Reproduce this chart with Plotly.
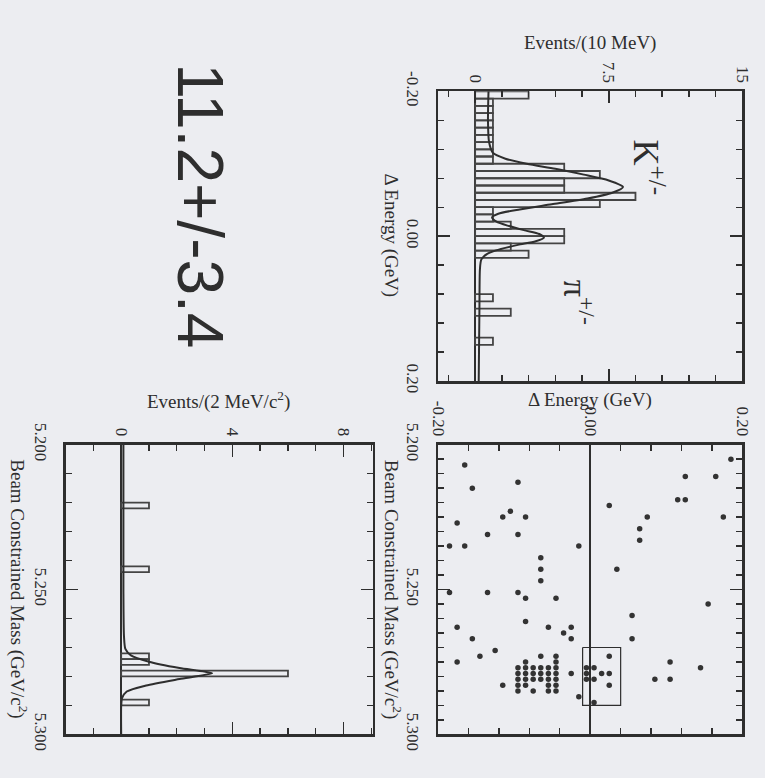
import plotly.graph_objects as go

W, H = 765, 778
BG = "#ecedf1"
INK = "#2e2e2e"
BAR_INK = "#444444"
SERIF = "Liberation Serif, Times New Roman, serif"
SANS = "Liberation Sans, Arial, sans-serif"

# ---------------- data ----------------
# Delta-E histogram, 10 MeV bins (only non-empty bins listed)
DE_BIN_CENTERS = [-0.195, -0.185, -0.175, -0.165, -0.155, -0.145, -0.135, -0.125,
                  -0.115, -0.105, -0.095, -0.085, -0.075, -0.065, -0.055, -0.045,
                  -0.035, -0.025, -0.015, -0.005, 0.005, 0.015, 0.025,
                  0.085, 0.105, 0.145]
DE_BIN_COUNTS = [3, 1, 1, 1, 1, 1, 1, 1,
                 1, 1, 5, 7, 5, 5, 9, 7,
                 1, 1, 2, 5, 5, 2, 3,
                 1, 2, 1]
DE_BIN_WIDTH = 0.01

DE_FIT_X = [-0.200, -0.160, -0.130, -0.115, -0.107, -0.100, -0.093, -0.085, -0.077,
            -0.068, -0.060, -0.052, -0.044, -0.037, -0.031, -0.026, -0.020, -0.014,
            -0.008, -0.003, 0.002, 0.007, 0.012, 0.018, 0.024, 0.032, 0.045, 0.100, 0.200]
DE_FIT_Y = [0.75, 0.72, 0.78, 1.0, 1.7, 2.9, 4.5, 6.1, 7.5,
            8.3, 7.7, 6.3, 4.3, 2.5, 1.3, 0.95, 1.2, 1.9,
            2.8, 3.6, 3.86, 3.4, 2.4, 1.4, 0.7, 0.35, 0.27, 0.24, 0.2]

# Beam-constrained-mass histogram, 2 MeV/c^2 bins (only non-empty bins listed)
MBC_BIN_CENTERS = [5.221, 5.243, 5.273, 5.275, 5.279, 5.289]
MBC_BIN_COUNTS = [1, 1, 1, 1, 6, 1]
MBC_BIN_WIDTH = 0.002

MBC_FIT_X = [5.200, 5.250, 5.266, 5.2705, 5.2727, 5.2749, 5.2771, 5.2789, 5.2809,
             5.2831, 5.2852, 5.2875, 5.290, 5.300]
MBC_FIT_Y = [0.08, 0.08, 0.1, 0.15, 0.35, 1.0, 2.1, 3.27, 2.1,
             0.9, 0.2, 0.03, 0.0, 0.0]

# Scatter: Delta E (GeV) vs beam constrained mass (GeV/c^2)
SCAT_DE = [-0.165, -0.155, -0.095, -0.175, -0.115, -0.105, -0.085, -0.135, -0.095, -0.185,
           -0.165, -0.015, -0.065, -0.065, -0.065, -0.185, -0.135, -0.095, -0.085, -0.045,
           -0.085, -0.175, -0.055, -0.155, -0.035, -0.025, -0.025, -0.125, -0.145, -0.175,
           -0.065, -0.045, -0.085, -0.095, -0.085, -0.075, -0.065, -0.055, -0.045, -0.095,
           -0.085, -0.075, -0.065, -0.055, -0.045, -0.045, -0.095, -0.085, -0.075, -0.065,
           -0.055, -0.045, -0.095, -0.085, -0.055, -0.045, -0.115, -0.095, -0.075, -0.055,
           -0.045, -0.025, -0.015, -0.005, -0.005, -0.005, 0.005, 0.005, 0.015, 0.025,
           0.025, 0.025, 0.005, 0.025, 0.035, 0.055, 0.055, 0.065, 0.065, 0.075,
           0.115, 0.125, 0.125, 0.165, 0.185, 0.175, 0.155, 0.105, 0.145, 0.085, 0.105]
SCAT_MBC = [5.207, 5.215, 5.213, 5.227, 5.225, 5.223, 5.225, 5.231, 5.231, 5.235,
            5.235, 5.235, 5.239, 5.243, 5.247, 5.251, 5.251, 5.251, 5.253, 5.253,
            5.261, 5.263, 5.263, 5.267, 5.265, 5.263, 5.267, 5.271, 5.273, 5.275,
            5.273, 5.273, 5.275, 5.277, 5.277, 5.277, 5.277, 5.277, 5.275, 5.279,
            5.279, 5.279, 5.279, 5.279, 5.277, 5.279, 5.281, 5.281, 5.281, 5.281,
            5.281, 5.281, 5.283, 5.283, 5.283, 5.283, 5.283, 5.285, 5.285, 5.285,
            5.285, 5.279, 5.287, 5.277, 5.279, 5.281, 5.281, 5.277, 5.279, 5.273,
            5.279, 5.283, 5.289, 5.221, 5.243, 5.259, 5.267, 5.229, 5.233, 5.225,
            5.219, 5.219, 5.211, 5.211, 5.205, 5.225, 5.255, 5.275, 5.277, 5.281, 5.281]

# signal box
BOX_DE = [-0.01, 0.04]
BOX_MBC = [5.27, 5.29]

RESULT_TEXT = "11.2+/-3.4"

# ---------------- layout helpers ----------------
def fx(p):
    return p / W

def fy(p):
    return 1 - p / H

P_DEH = (439, 751, 73, 378)   # left, right, top, bottom (px)
P_SC = (439, 751, 445, 750)
P_MH = (57, 372, 445, 750)


def axis(domain, anchor, rng, tickvals, ticktext, minor_dtick, minor_tick0,
         side=None, zeroline=False, standoff=None):
    d = dict(
        domain=domain, anchor=anchor, range=rng,
        tickmode="array", tickvals=tickvals, ticktext=ticktext,
        showline=True, linecolor=INK, linewidth=2.5, mirror="ticks",
        ticks="inside", ticklen=12, tickwidth=1.6, tickcolor=INK,
        showgrid=False, zeroline=zeroline, zerolinecolor=INK, zerolinewidth=2.2,
        tickangle=90,
        tickfont=dict(family=SERIF, size=17, color=INK),
        minor=dict(ticks="inside", ticklen=6, tickwidth=1.4, tickcolor=INK,
                   dtick=minor_dtick, tick0=minor_tick0, showgrid=False),
        fixedrange=True,
    )
    if side:
        d["side"] = side
    if standoff is not None:
        d["ticklabelstandoff"] = standoff
    return d


fig = go.Figure()

bar_style = dict(marker=dict(color="rgba(0,0,0,0)", line=dict(color=BAR_INK, width=1.8)),
                 orientation="h", showlegend=False, hoverinfo="skip")

# Delta-E histogram (panel 1)
fig.add_trace(go.Bar(x=DE_BIN_COUNTS, y=DE_BIN_CENTERS, width=DE_BIN_WIDTH,
                     xaxis="x", yaxis="y", **bar_style))
fig.add_trace(go.Scatter(x=DE_FIT_Y, y=DE_FIT_X, mode="lines",
                         line=dict(color=INK, width=2, shape="spline", smoothing=0.7),
                         xaxis="x", yaxis="y", showlegend=False, hoverinfo="skip"))

# Scatter (panel 2)
fig.add_trace(go.Scatter(x=SCAT_DE, y=SCAT_MBC, mode="markers",
                         marker=dict(color="#333333", size=5.5, symbol="circle"),
                         xaxis="x2", yaxis="y2", showlegend=False, hoverinfo="skip"))
fig.add_trace(go.Scatter(x=[BOX_DE[0], BOX_DE[1], BOX_DE[1], BOX_DE[0], BOX_DE[0]],
                         y=[BOX_MBC[0], BOX_MBC[0], BOX_MBC[1], BOX_MBC[1], BOX_MBC[0]],
                         mode="lines", line=dict(color=INK, width=1.2),
                         xaxis="x2", yaxis="y2", showlegend=False, hoverinfo="skip"))

# Mbc histogram (panel 3)
fig.add_trace(go.Bar(x=MBC_BIN_COUNTS, y=MBC_BIN_CENTERS, width=MBC_BIN_WIDTH,
                     xaxis="x3", yaxis="y3", **bar_style))
fig.add_trace(go.Scatter(x=MBC_FIT_Y, y=MBC_FIT_X, mode="lines",
                         line=dict(color=INK, width=2, shape="spline", smoothing=0.6),
                         xaxis="x3", yaxis="y3", showlegend=False, hoverinfo="skip"))

layout = dict(
    width=W, height=H, autosize=False,
    margin=dict(l=0, r=0, t=0, b=0),
    paper_bgcolor=BG, plot_bgcolor=BG,
    bargap=0, showlegend=False,
    xaxis=axis([fx(P_DEH[0]), fx(P_DEH[1])], "y", [-2.08, 15.0],
               [0, 7.5, 15], ["0", "7.5", "15"], 1.5, 0, side="top", zeroline=True),
    yaxis=axis([fy(P_DEH[3]), fy(P_DEH[2])], "x", [0.2, -0.2],
               [-0.2, 0.0, 0.2], ["-0.20", "0.00", "0.20"], 0.04, -0.2, standoff=8),
    xaxis2=axis([fx(P_SC[0]), fx(P_SC[1])], "y2", [-0.2, 0.2],
                [-0.2, 0.0, 0.2], ["-0.20", "0.00", "0.20"], 0.04, -0.2, side="top", zeroline=True),
    yaxis2=axis([fy(P_SC[3]), fy(P_SC[2])], "x2", [5.3, 5.2],
                [5.2, 5.25, 5.3], ["5.200", "5.250", "5.300"], 0.005, 5.2, standoff=8),
    xaxis3=axis([fx(P_MH[0]), fx(P_MH[1])], "y3", [-2.0, 9.05],
                [0, 4, 8], ["0", "4", "8"], 1, 0, side="top", zeroline=True),
    yaxis3=axis([fy(P_MH[3]), fy(P_MH[2])], "x3", [5.3, 5.2],
                [5.2, 5.25, 5.3], ["5.200", "5.250", "5.300"], 0.01, 5.2, standoff=8),
)
fig.update_layout(**layout)

ANNOTATIONS = [
    ("Events/(10 MeV)", 595, 22, 0, 19, SERIF),
    ("Δ Energy (GeV)", 391, 225, 90, 19, SERIF),
    ("Δ Energy (GeV)", 595, 398, 0, 19, SERIF),
    ("Beam Constrained Mass (GeV/c<sup>2</sup>)", 393, 597, 90, 19, SERIF),
    ("Events/(2 MeV/c<sup>2</sup>)", 214, 398, 0, 19, SERIF),
    ("Beam Constrained Mass (GeV/c<sup>2</sup>)", 9, 597, 90, 19, SERIF),
    (RESULT_TEXT, 195, 193, 90, 64, SANS),
    ("K<sup>+/-</sup>", 655, 153, 90, 36, SERIF),
    ("π<sup>+/-</sup>", 583, 295, 90, 34, SERIF),
]
for text, x, y, ang, size, fam in ANNOTATIONS:
    fig.add_annotation(text=text, x=fx(x), y=fy(y), xref="paper", yref="paper",
                       xanchor="center", yanchor="middle", textangle=ang,
                       showarrow=False, font=dict(family=fam, size=size, color=INK))

fig.write_html(
    "out.html",
    config={"displayModeBar": False, "staticPlot": True},
    post_script="document.body.style.margin='0px';document.body.style.overflow='hidden';"
                "document.body.style.background='" + BG + "';",
)
